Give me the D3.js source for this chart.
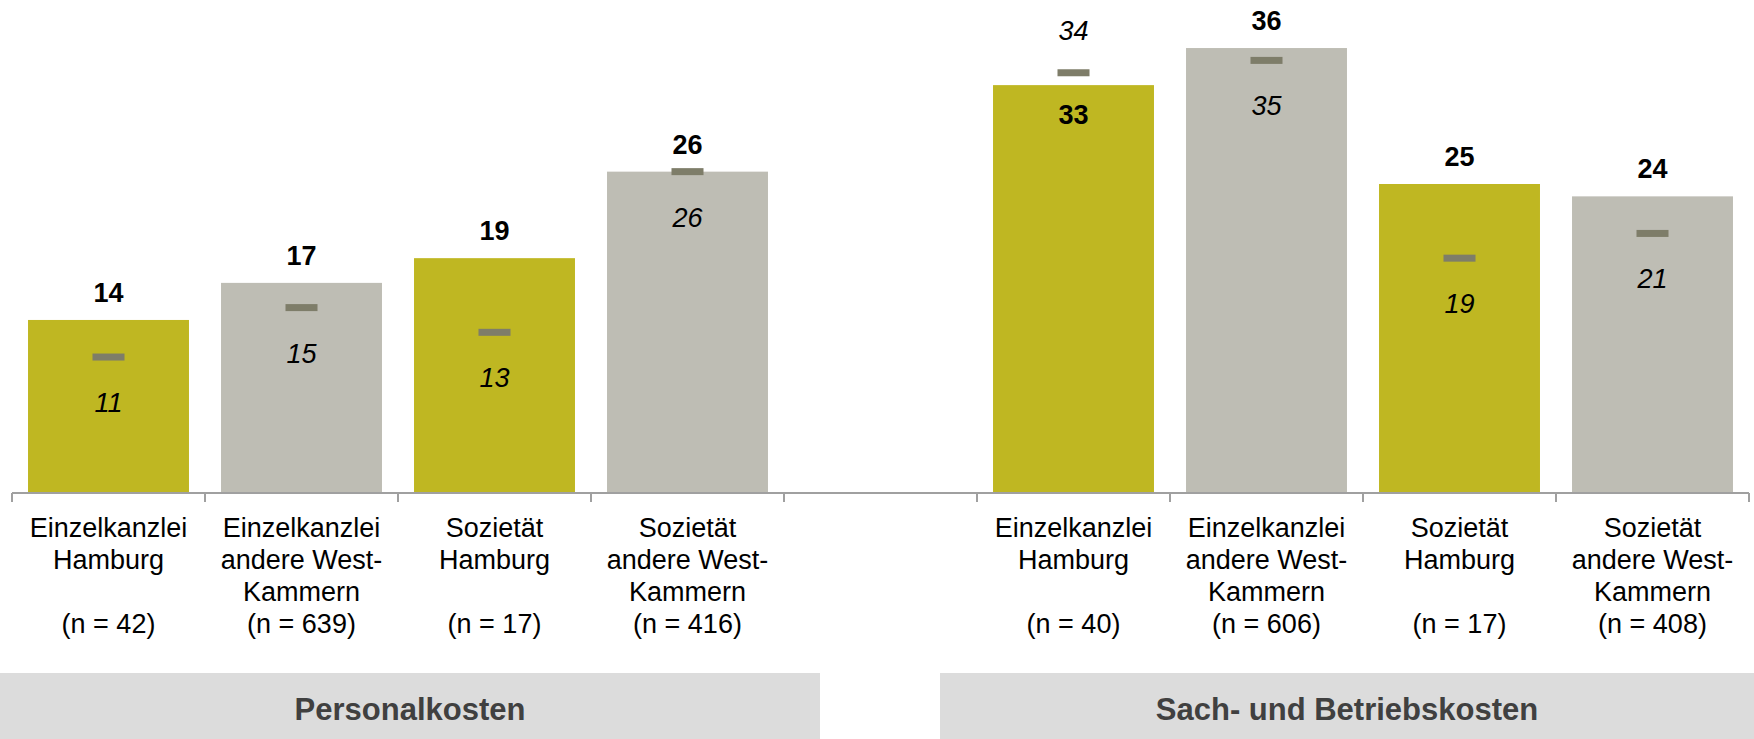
<!DOCTYPE html>
<html>
<head>
<meta charset="utf-8">
<script src="https://cdn.jsdelivr.net/npm/d3@7"></script>
<style>
  body { margin: 0; background: #fff; }
  svg { display: block; font-family: "Liberation Sans", Arial, sans-serif; }
</style>
</head>
<body>
<div id="chart"></div>
<script>
// ---- data ----
var groups = ["Personalkosten", "Sach- und Betriebskosten"];
var catLines = [
  ["Einzelkanzlei", "Hamburg", ""],
  ["Einzelkanzlei", "andere West-", "Kammern"],
  ["Sozietät", "Hamburg", ""],
  ["Sozietät", "andere West-", "Kammern"]
];
var nPersonal = [42, 639, 17, 416];
var nSach = [40, 606, 17, 408];
var valPersonal = [14, 17, 19, 26];
var markPersonal = [11, 15, 13, 26];
var valSach = [33, 36, 25, 24];
var markSach = [34, 35, 19, 21];
var barColors = ["#bfb722", "#bebdb4", "#bfb722", "#bebdb4"];

// build slot list: 4 + gap + 4
var slots = [];
catLines.forEach(function(l, i) {
  slots.push({key: "p" + i, lines: l, n: nPersonal[i], value: valPersonal[i], mark: markPersonal[i], color: barColors[i]});
});
slots.push({key: "gap", gap: true});
catLines.forEach(function(l, i) {
  slots.push({key: "s" + i, lines: l, n: nSach[i], value: valSach[i], mark: markSach[i], color: barColors[i]});
});

var W = 1754, H = 739;
var axisY = 493;

var svg = d3.select("#chart").append("svg")
  .attr("width", W).attr("height", H);

var x = d3.scaleBand()
  .domain(slots.map(function(d) { return d.key; }))
  .range([12, 1749])
  .paddingInner(0.166)
  .paddingOuter(0.083);

var y = d3.scaleLinear().domain([0, 40]).range([axisY, -1.4]);

var bars = slots.filter(function(d) { return !d.gap; });

// bars
svg.append("g").selectAll("rect")
  .data(bars).enter().append("rect")
  .attr("x", function(d) { return x(d.key); })
  .attr("y", function(d) { return y(d.value); })
  .attr("width", x.bandwidth())
  .attr("height", function(d) { return y(0) - y(d.value); })
  .attr("fill", function(d) { return d.color; });

// axis line + ticks at slot boundaries
var step = x.step();
var half = step * x.paddingInner() / 2;
var tickXs = slots.map(function(d) { return x(d.key) - half; });
tickXs.push(x(slots[slots.length - 1].key) + x.bandwidth() + half);
var axis = svg.append("g");
axis.append("line")
  .attr("x1", tickXs[0]).attr("x2", tickXs[tickXs.length - 1])
  .attr("y1", axisY).attr("y2", axisY)
  .attr("stroke", "#a0a0a0").attr("stroke-width", 2);
axis.selectAll(".tick").data(tickXs).enter().append("line")
  .attr("x1", function(d) { return d; }).attr("x2", function(d) { return d; })
  .attr("y1", axisY).attr("y2", axisY + 9)
  .attr("stroke", "#a0a0a0").attr("stroke-width", 2);

// markers (comparison values)
var mw = 32, mh = 7;
svg.append("g").selectAll("rect")
  .data(bars).enter().append("rect")
  .attr("x", function(d) { return x(d.key) + x.bandwidth() / 2 - mw / 2; })
  .attr("y", function(d) { return y(d.mark) - mh / 2; })
  .attr("width", mw).attr("height", mh)
  .attr("fill", "#7e7d69");

// bar value labels
svg.append("g").selectAll("text")
  .data(bars).enter().append("text")
  .attr("x", function(d) { return x(d.key) + x.bandwidth() / 2; })
  .attr("y", function(d) { return d.mark > d.value ? y(d.value) + 39 : y(d.value) - 18; })
  .attr("text-anchor", "middle")
  .attr("font-size", 27).attr("font-weight", "bold")
  .attr("fill", "#000")
  .text(function(d) { return d.value; });

// marker labels
svg.append("g").selectAll("text")
  .data(bars).enter().append("text")
  .attr("x", function(d) { return x(d.key) + x.bandwidth() / 2; })
  .attr("y", function(d) { return d.mark > d.value ? y(d.mark) - 33 : y(d.mark) + 55; })
  .attr("text-anchor", "middle")
  .attr("font-size", 27).attr("font-style", "italic")
  .attr("fill", "#000")
  .text(function(d) { return d.mark; });

// category labels
var catG = svg.append("g").selectAll("text")
  .data(bars).enter().append("text")
  .attr("text-anchor", "middle")
  .attr("font-size", 27)
  .attr("fill", "#000");
catG.each(function(d) {
  var t = d3.select(this);
  var cx = x(d.key) + x.bandwidth() / 2;
  var lines = d.lines.concat(["(n = " + d.n + ")"]);
  lines.forEach(function(s, i) {
    t.append("tspan").attr("x", cx).attr("y", 537 + i * 32).text(s);
  });
});

// group boxes
var boxes = [
  {name: groups[0], x0: 0, x1: 820},
  {name: groups[1], x0: 940, x1: 1754}
];
var bg = svg.append("g").selectAll("g").data(boxes).enter().append("g");
bg.append("rect")
  .attr("x", function(d) { return d.x0; })
  .attr("y", 673)
  .attr("width", function(d) { return d.x1 - d.x0; })
  .attr("height", H - 673)
  .attr("fill", "#dcdcdc");
bg.append("text")
  .attr("x", function(d) { return (d.x0 + d.x1) / 2; })
  .attr("y", 720)
  .attr("text-anchor", "middle")
  .attr("font-size", 31).attr("font-weight", "bold")
  .attr("fill", "#404040")
  .text(function(d) { return d.name; });
</script>
</body>
</html>
